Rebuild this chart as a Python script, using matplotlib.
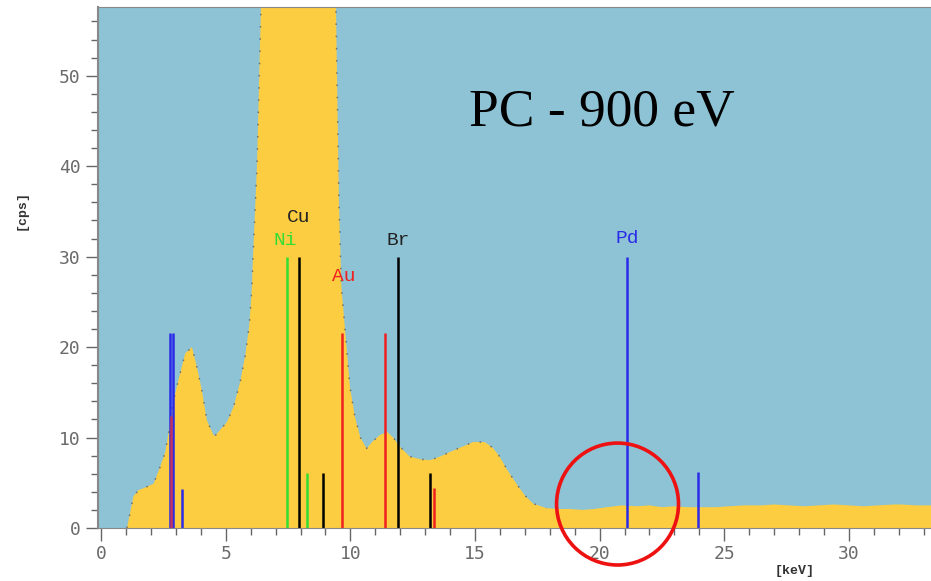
import matplotlib.pyplot as plt
from matplotlib.patches import Ellipse
from matplotlib.ticker import MultipleLocator

# EDX spectrum, energy [keV] vs intensity [cps]
energy = [0.0, 1.03, 1.1, 1.29, 1.5, 1.7, 2.1, 2.37, 2.57, 2.7, 2.9, 3.1, 3.37, 3.64,
          3.84, 4.04, 4.24, 4.5, 4.57, 5.04, 5.31, 5.58, 5.78, 5.94, 6.04, 6.09, 6.25,
          6.41, 6.6, 7.0, 8.0, 9.0, 9.3, 9.42, 9.54, 9.64, 9.82, 9.98, 10.18, 10.4,
          10.65, 10.9, 11.2, 11.48, 11.75, 11.98, 12.38, 12.8, 13.19, 13.6, 13.99,
          14.5, 14.92, 15.39, 15.7, 15.99, 16.3, 16.66, 17.0, 17.33, 17.86, 18.3,
          18.8, 19.33, 19.8, 20.3, 20.9, 21.5, 22.0, 22.5, 23.0, 23.5, 24.0, 24.67,
          25.2, 25.8, 26.5, 27.0, 27.6, 28.2, 28.8, 29.4, 30.0, 30.6, 31.2, 31.8,
          32.1, 32.7, 33.4]
counts = [0.0, 0.0, 0.9, 3.5, 4.2, 4.4, 4.9, 6.8, 8.4, 10.5, 14.1, 16.4, 19.3, 20.0,
          17.8, 15.2, 11.9, 10.3, 10.2, 11.7, 13.4, 16.2, 19.1, 22.4, 26.3, 30.0, 40.0,
          57.6, 70.0, 90.0, 100.0, 80.0, 62.0, 57.6, 36.0, 26.6, 20.8, 15.6, 12.3, 10.0,
          8.8, 9.6, 10.3, 10.6, 9.9, 9.0, 7.9, 7.6, 7.5, 7.9, 8.4, 9.0, 9.5, 9.5, 8.9,
          7.9, 6.4, 4.9, 3.6, 2.7, 2.2, 2.1, 2.1, 2.0, 2.1, 2.3, 2.5, 2.4, 2.5, 2.3,
          2.4, 2.3, 2.3, 2.3, 2.4, 2.5, 2.5, 2.6, 2.5, 2.4, 2.5, 2.6, 2.5, 2.4, 2.5,
          2.6, 2.6, 2.5, 2.5]

# KLM marker lines: (energy, height, colour)
line_energy = [2.74, 2.88, 2.81, 3.25, 7.47, 8.25, 7.95, 8.88, 9.68, 11.37, 11.92,
               13.2, 13.34, 21.08, 23.96]
line_height = [21.6, 21.6, 12.4, 4.3, 30.0, 6.1, 30.0, 6.1, 21.6, 21.6, 30.0,
               6.1, 4.4, 30.0, 6.2]
line_color = ['#2a2ae8', '#2a2ae8', '#c03060', '#2a2ae8', '#33dd33', '#33dd33',
              'black', 'black', '#f02020', '#f02020', 'black', 'black', '#f02020',
              '#2a2ae8', '#2a2ae8']

elements = ['Cu', 'Ni', 'Au', 'Br', 'Pd']
label_x = [7.93, 7.40, 9.74, 11.91, 21.1]
label_y = [33.8, 31.3, 27.3, 31.3, 31.5]
label_color = ['#222222', '#33dd33', '#f02020', '#222222', '#2a2ae8']

fig = plt.figure(figsize=(9.31, 5.81), dpi=100)
ax = fig.add_axes([97.5 / 931, 53 / 581, (931 - 97.5) / 931, 521 / 581])
ax.set_facecolor('#8dc3d5')

ax.fill_between(energy, counts, 0, color='#fccd40', linewidth=0)
# fitted curve shown as sparse dots
fit_e = [e for e in energy if 1.0 <= e <= 18.0]
fit_c = [c for e, c in zip(energy, counts) if 1.0 <= e <= 18.0]
ax.plot(fit_e, fit_c, color='#6f6f6f', lw=1.1, linestyle=(0, (1, 7)))

for e, h, c in zip(line_energy, line_height, line_color):
    ax.plot([e, e], [0, h], color=c, lw=1.8, solid_capstyle='butt')

for name, x, y, c in zip(elements, label_x, label_y, label_color):
    ax.text(x, y, name, color=c, ha='center', va='baseline',
            fontfamily='Liberation Mono', fontsize=14)

ax.text(20.1, 44.5, 'PC - 900 eV', fontfamily='Liberation Serif', fontsize=38.5,
        ha='center', va='baseline', color='black')

circle = Ellipse((20.72, 2.65), 122 / 24.93, 122 / 9.05, fill=False,
                 edgecolor='#ee1111', lw=2.6, clip_on=False, zorder=5)
ax.add_patch(circle)

ax.set_xlim(-0.15, 33.3)
ax.set_ylim(0, 57.6)
ax.xaxis.set_major_locator(MultipleLocator(5))
ax.xaxis.set_minor_locator(MultipleLocator(1))
ax.yaxis.set_major_locator(MultipleLocator(10))
ax.yaxis.set_minor_locator(MultipleLocator(2))
ax.tick_params(which='major', length=9, width=1, color='#666666', labelcolor='#6a6a6a',
               labelsize=13, pad=3)
ax.tick_params(which='minor', length=5, width=1, color='#666666')
for lab in ax.get_xticklabels() + ax.get_yticklabels():
    lab.set_fontfamily('DejaVu Sans Mono')

for side in ['left', 'bottom', 'top']:
    ax.spines[side].set_color('#888888')
ax.spines['left'].set_linewidth(1.5)
ax.spines['right'].set_visible(False)

fig.text(22 / 931, 1 - 210 / 581, '[cps]', rotation=90, ha='center', va='center',
         fontfamily='Liberation Mono', fontweight='bold', fontsize=9.5, color='#333333')
fig.text(795 / 931, 1 - 571 / 581, '[keV]', ha='center', va='center',
         fontfamily='Liberation Mono', fontweight='bold', fontsize=9.5, color='#333333')

fig.savefig('out.png', dpi=100)
